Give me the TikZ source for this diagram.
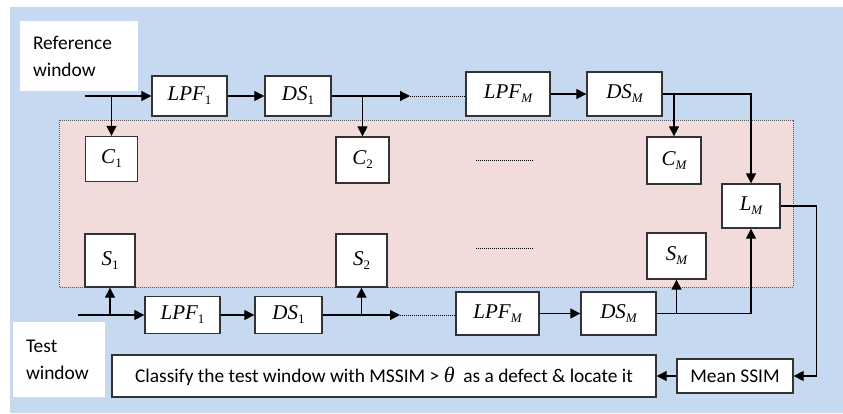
\documentclass[tikz,border=0pt]{standalone}
\usepackage{fontspec}
\setmainfont{Carlito}
\newfontfamily\tnr{Liberation Serif}
\usetikzlibrary{arrows.meta}
\definecolor{bgblue}{HTML}{C6D9F1}
\definecolor{bgpink}{HTML}{F2DCDB}
\definecolor{boxgray}{HTML}{333333}
\newcommand{\blk}[2]{{\tnr\fontsize{21}{24}\selectfont{\itshape #1}\raisebox{-4pt}{\fontsize{13}{14}\selectfont #2}}}
\tikzset{
  blockbox/.style={draw=boxgray, line width=1.3pt, fill=white, inner sep=0pt},
  textbox/.style={draw=boxgray, line width=1.3pt, fill=white, inner sep=0pt,
    font=\fontsize{19.4}{27}\selectfont},
  winbox/.style={fill=white, inner xsep=13pt, inner ysep=0pt, align=left,
    font=\fontsize{19.4}{27}\selectfont},
  arr/.style={line width=1.2pt, -{Triangle[length=10pt,width=10pt]}},
  dotline/.style={line width=0.8pt, dash pattern=on 0.8pt off 1.2pt}
}
\begin{document}
\begin{tikzpicture}[x=1pt, y=-1pt]
  \useasboundingbox (0,0) rectangle (843,413);
  \fill[bgblue] (10,7) rectangle (843,413);
  % pink region with the comparison blocks
  \fill[bgpink] (59,120) rectangle (793,287);
  \draw[gray!70!black, dotline] (59,120) rectangle (793,287);
  \foreach \y in {160,248}
    \draw[dotline] (476,\y) -- (533,\y);

  \node[winbox, minimum width=118pt, minimum height=70pt, text width=92pt] (refwin) at (79,56) {Reference\\window};
  \node[winbox, minimum width=92pt, minimum height=75pt, text width=66pt] (testwin) at (59,359.5) {Test\\window};

  % reference path
  \node[blockbox, minimum width=75pt, minimum height=40pt] (lpfa) at (189.5,96) {\blk{LPF}{1}};
  \node[blockbox, minimum width=66pt, minimum height=40pt] (dsa) at (298,96) {\blk{DS}{1}};
  \node[blockbox, minimum width=84pt, minimum height=44pt] (lpfm) at (508,94) {\blk{LPF}{\itshape M}};
  \node[blockbox, minimum width=75pt, minimum height=44pt] (dsm) at (624.5,94) {\blk{DS}{\itshape M}};
  \node[blockbox, minimum width=52pt, minimum height=45pt] (c1) at (111.5,159) {\blk{C}{1}};
  \node[blockbox, minimum width=53pt, minimum height=46pt] (c2) at (362.5,160) {\blk{C}{2}};
  \node[blockbox, minimum width=54pt, minimum height=47pt] (cm) at (674,160.5) {\blk{C}{\itshape M}};
  \node[blockbox, minimum width=58pt, minimum height=44pt] (lm) at (751,206) {\blk{L}{\itshape M}};

  % test path
  \node[blockbox, minimum width=50pt, minimum height=53pt] (s1) at (110,260.5) {\blk{S}{1}};
  \node[blockbox, minimum width=51pt, minimum height=53pt] (s2) at (361.5,260.5) {\blk{S}{2}};
  \node[blockbox, minimum width=59pt, minimum height=46pt] (sm) at (676.5,256) {\blk{S}{\itshape M}};
  \node[blockbox, minimum width=75pt, minimum height=37pt] (lpfb1) at (182.5,315) {\blk{LPF}{1}};
  \node[blockbox, minimum width=67pt, minimum height=37pt] (dsb1) at (288.5,315) {\blk{DS}{1}};
  \node[blockbox, minimum width=83pt, minimum height=43pt] (lpfbm) at (497.5,313.5) {\blk{LPF}{\itshape M}};
  \node[blockbox, minimum width=75pt, minimum height=43pt] (dsbm) at (618.5,313.5) {\blk{DS}{\itshape M}};

  \node[textbox, minimum width=116pt, minimum height=34pt] (mssim) at (735,376) {Mean SSIM};
  \node[textbox, minimum width=544pt, minimum height=42pt] (classify) at (384,376)
    {Classify the test window with MSSIM > {\tnr\itshape\fontsize{22}{27}\selectfont θ}\ \ as a defect \& locate it};

  \coordinate (rin) at (85,96);
  \coordinate (rdots) at (410,96);
  \coordinate (tin) at (78,315);
  \coordinate (tdots) at (400,315);

  \draw[arr] (rin) -- (lpfa);
  \draw[arr] (c1.north |- rin) -- (c1.north);
  \draw[arr] (lpfa) -- (dsa);
  \draw[arr] (dsa) -- (rdots);
  \draw[dotline] (rdots) -- (lpfm.west |- rdots);
  \draw[arr] (c2.north |- dsa.east) -- (c2.north);
  \draw[arr] (lpfm) -- (dsm);
  \draw[arr] (dsm.east) -| (lm.north);
  \draw[arr] (cm.north |- dsm.east) -- (cm.north);

  \draw[arr] (tin) -- (lpfb1);
  \draw[arr] (s1.south |- tin) -- (s1.south);
  \draw[arr] (lpfb1) -- (dsb1);
  \draw[arr] (dsb1) -- (tdots);
  \draw[dotline] (tdots) -- (lpfbm.west |- tdots);
  \draw[arr] (s2.south |- dsb1.east) -- (s2.south);
  \draw[arr] (lpfbm) -- (dsbm);
  \draw[arr] (dsbm.east) -| (lm.south);
  \draw[arr] (sm.south |- dsbm.east) -- (sm.south);

  \draw[arr] (lm.east) -- ++(36,0) |- (mssim.east);
  \draw[arr] (mssim) -- (classify);
\end{tikzpicture}
\end{document}
